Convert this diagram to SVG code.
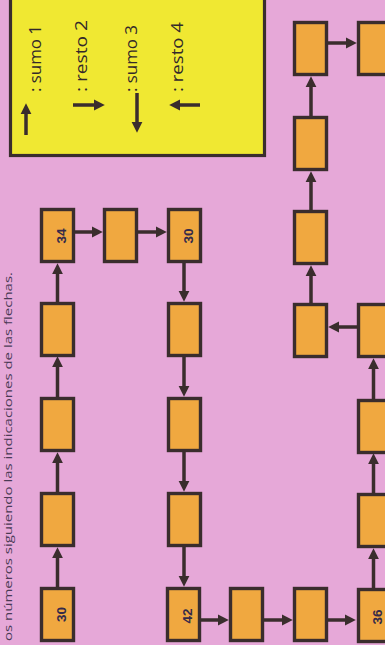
<svg xmlns="http://www.w3.org/2000/svg" width="385" height="645" viewBox="0 0 385 645">
<style>
.bg{fill:#e6a8d8}
.legend{fill:#f0e832;stroke:#3a2d2d;stroke-width:3.2}
.box{fill:#f0a840;stroke:#3a2d2d;stroke-width:3.4}
.con{fill:none;stroke:#3a2d2d;stroke-width:3.5}
.lbl{font-family:"Liberation Sans",Arial,sans-serif;font-size:13.5px;font-weight:bold;fill:#352a4a;text-anchor:middle;dominant-baseline:central}
.leg{font-family:"Open Sans","Liberation Sans",Arial,sans-serif;font-size:16px;fill:#33282a}
.hdr{font-family:"Open Sans","Liberation Sans",Arial,sans-serif;font-size:11.5px;fill:#4a3a55}
</style>
<defs>
<marker id="ah" viewBox="0 0 10 10" refX="2" refY="5" markerWidth="11" markerHeight="12" markerUnits="userSpaceOnUse" orient="auto">
<path d="M0,0 L10,5 L0,10 z" fill="#3a2d2d"/>
</marker>
</defs>
<rect class="bg" x="0" y="0" width="385" height="645"/>
<text class="hdr" transform="translate(12,641) rotate(-90)" textLength="369" lengthAdjust="spacingAndGlyphs">os números siguiendo las indicaciones de las flechas.</text>
<g id="legend">
<rect class="legend" x="10.5" y="-2" width="254" height="157.5"/>
<path class="con" d="M26,135 V112" marker-end="url(#ah)"/>
<path class="con" d="M73,105 H96" marker-end="url(#ah)"/>
<path class="con" d="M137,93 V124" marker-end="url(#ah)"/>
<path class="con" d="M200,105 H178" marker-end="url(#ah)"/>
<text class="leg" transform="translate(40.5,92) rotate(-90)" textLength="67" lengthAdjust="spacingAndGlyphs">: sumo 1</text>
<text class="leg" transform="translate(87,92) rotate(-90)" textLength="72" lengthAdjust="spacingAndGlyphs">: resto 2</text>
<text class="leg" transform="translate(137,92) rotate(-90)" textLength="67" lengthAdjust="spacingAndGlyphs">: sumo 3</text>
<text class="leg" transform="translate(183,92) rotate(-90)" textLength="70" lengthAdjust="spacingAndGlyphs">: resto 4</text>
</g>
<g id="connectors">
<path class="con" d="M57.5,587 V556" marker-end="url(#ah)"/>
<path class="con" d="M57.5,492 V461" marker-end="url(#ah)"/>
<path class="con" d="M57.5,397 V365" marker-end="url(#ah)"/>
<path class="con" d="M57.5,302 V272" marker-end="url(#ah)"/>
<path class="con" d="M75,232 H94" marker-end="url(#ah)"/>
<path class="con" d="M138,232 H158" marker-end="url(#ah)"/>
<path class="con" d="M184,263 V293" marker-end="url(#ah)"/>
<path class="con" d="M184,357 V388" marker-end="url(#ah)"/>
<path class="con" d="M184,452 V483" marker-end="url(#ah)"/>
<path class="con" d="M184,547 V578" marker-end="url(#ah)"/>
<path class="con" d="M201,620 H220" marker-end="url(#ah)"/>
<path class="con" d="M264,620 H284" marker-end="url(#ah)"/>
<path class="con" d="M328,620 H347" marker-end="url(#ah)"/>
<path class="con" d="M373.5,588 V557" marker-end="url(#ah)"/>
<path class="con" d="M373.5,493 V462" marker-end="url(#ah)"/>
<path class="con" d="M373.5,399 V367" marker-end="url(#ah)"/>
<path class="con" d="M357,327 H337" marker-end="url(#ah)"/>
<path class="con" d="M311,303 V274" marker-end="url(#ah)"/>
<path class="con" d="M311,210 V180" marker-end="url(#ah)"/>
<path class="con" d="M311,116 V85" marker-end="url(#ah)"/>
<path class="con" d="M328,43 H348" marker-end="url(#ah)"/>
</g>
<g id="n1"><rect class="box" x="41.5" y="588.5" width="32" height="52"/><text class="lbl" transform="translate(61.5,614.5) rotate(-90)">30</text></g>
<g id="n2"><rect class="box" x="41.5" y="493.5" width="32" height="52"/></g>
<g id="n3"><rect class="box" x="41.5" y="398.5" width="32" height="52"/></g>
<g id="n4"><rect class="box" x="41.5" y="303.5" width="32" height="52"/></g>
<g id="n5"><rect class="box" x="41.5" y="209.5" width="32" height="52"/><text class="lbl" transform="translate(61.5,236) rotate(-90)">34</text></g>
<g id="n6"><rect class="box" x="104.5" y="209.5" width="32" height="52"/></g>
<g id="n7"><rect class="box" x="168.5" y="209.5" width="32" height="52"/><text class="lbl" transform="translate(188,236) rotate(-90)">30</text></g>
<g id="n8"><rect class="box" x="168.5" y="303.5" width="32" height="52"/></g>
<g id="n9"><rect class="box" x="168.5" y="398.5" width="32" height="52"/></g>
<g id="n10"><rect class="box" x="168.5" y="493.5" width="32" height="52"/></g>
<g id="n11"><rect class="box" x="167.5" y="588.5" width="32" height="52"/><text class="lbl" transform="translate(187.5,616) rotate(-90)">42</text></g>
<g id="n12"><rect class="box" x="230.5" y="588.5" width="32" height="52"/></g>
<g id="n13"><rect class="box" x="294.5" y="588.5" width="32" height="52"/></g>
<g id="n14"><rect class="box" x="358.5" y="589.5" width="32" height="52"/><text class="lbl" transform="translate(377.5,617) rotate(-90)">36</text></g>
<g id="n15"><rect class="box" x="358.5" y="494.5" width="32" height="52"/></g>
<g id="n16"><rect class="box" x="358.5" y="400.5" width="32" height="52"/></g>
<g id="n17"><rect class="box" x="358.5" y="304.5" width="32" height="52"/></g>
<g id="n18"><rect class="box" x="294.5" y="304.5" width="32" height="52"/></g>
<g id="n19"><rect class="box" x="294.5" y="211.5" width="32" height="52"/></g>
<g id="n20"><rect class="box" x="294.5" y="117.5" width="32" height="52"/></g>
<g id="n21"><rect class="box" x="294.5" y="22.5" width="32" height="52"/></g>
<g id="n22"><rect class="box" x="358.5" y="22.5" width="32" height="52"/></g>
</svg>
